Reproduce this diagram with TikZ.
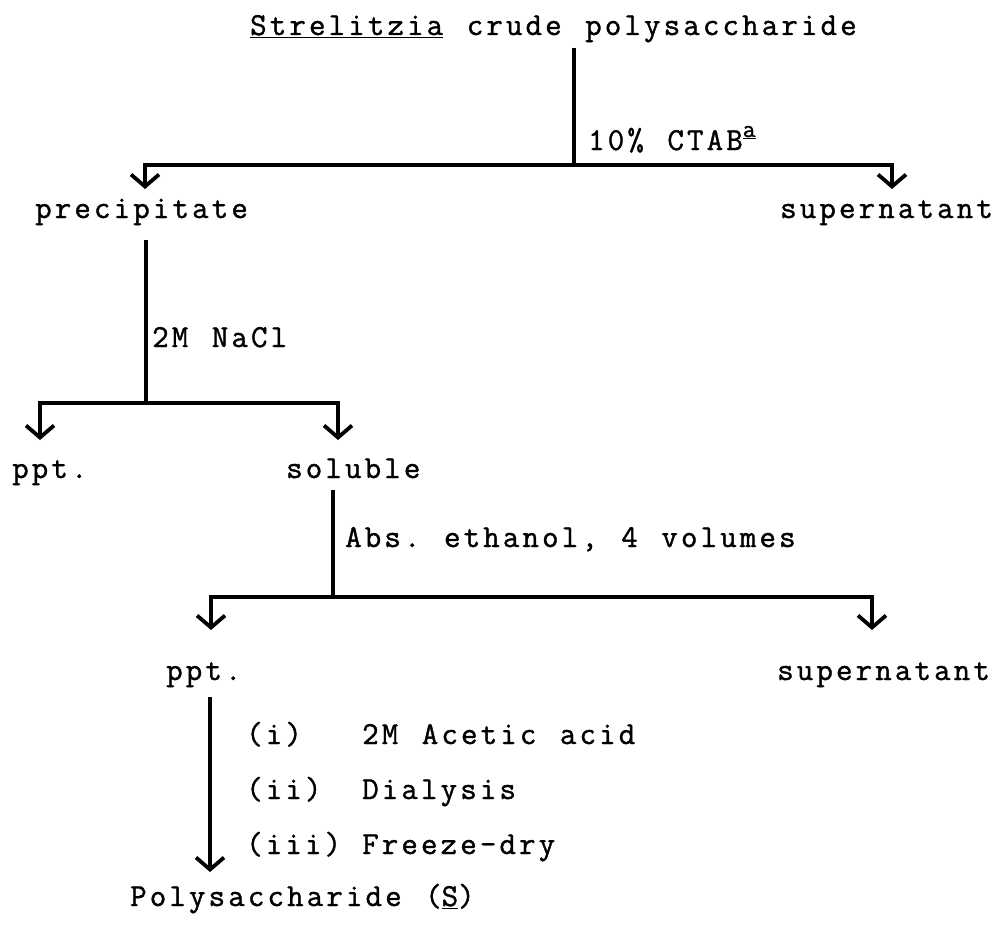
\documentclass[tikz,border=0pt]{standalone}
\usepackage{fontspec}
\setmonofont{Latin Modern Mono}[LetterSpace=9.8,WordSpace=1.2,FakeBold=1.2]
\usetikzlibrary{arrows.meta}
\begin{document}
\begin{tikzpicture}[x=1pt,y=-1pt,
  lbl/.style={anchor=base west, inner sep=0pt, font=\ttfamily\fontsize{32}{34}\selectfont},
  ln/.style={line width=3.4pt, line join=miter},
  arr/.style={ln, -{Straight Barb[length=12pt,width=28pt,line width=3.8pt]}}]
\useasboundingbox (0,0) rectangle (997,942);
% texts
\node[lbl] (title) at (250,35) {\underline{Strelitzia} crude polysaccharide};
\node[lbl] (ctab) at (588,150) {10\% CTAB\raisebox{13pt}{\fontsize{25}{25}\selectfont\underline{a}}};
\node[lbl] (prec) at (35,218) {precipitate};
\node[lbl] (sup1) at (780,218) {supernatant};
\node[lbl] (nacl) at (152,347) {2M NaCl};
\node[lbl] (ppt1) at (12,478) {ppt.};
\node[lbl] (sol) at (286,478) {soluble};
\node[lbl] (eth) at (345,547) {Abs. ethanol, 4 volumes};
\node[lbl] (ppt2) at (166,680) {ppt.};
\node[lbl] (sup2) at (777,680) {supernatant};
\node[lbl] (n1) at (246,744) {(i)};
\node[lbl] (s1) at (362,744) {2M Acetic acid};
\node[lbl] (n2) at (246,799) {(ii)};
\node[lbl] (s2) at (362,799) {Dialysis};
\node[lbl] (n3) at (246,854) {(iii)};
\node[lbl] (s3) at (362,854) {Freeze-dry};
\node[lbl] (poly) at (130,906) {Polysaccharide (\underline{S})};
% tree 1
\coordinate (t1) at (574,48);
\coordinate (j1) at (574,165);
\coordinate (a1) at (145,189);
\coordinate (b1) at (892,189);
\draw[ln] (t1) -- (j1);
\draw[arr] (j1) -| (a1);
\draw[arr] (j1) -| (b1);
% tree 2
\coordinate (t2) at (146,240);
\coordinate (j2) at (146,403);
\coordinate (a2) at (40,440);
\coordinate (b2) at (338,440);
\draw[ln] (t2) -- (j2);
\draw[arr] (j2) -| (a2);
\draw[arr] (j2) -| (b2);
% tree 3
\coordinate (t3) at (333,490);
\coordinate (j3) at (333,597);
\coordinate (a3) at (211,630);
\coordinate (b3) at (872,630);
\draw[ln] (t3) -- (j3);
\draw[arr] (j3) -| (a3);
\draw[arr] (j3) -| (b3);
% final
\coordinate (t4) at (210,697);
\coordinate (a4) at (210,872);
\draw[arr] (t4) -- (a4);
\end{tikzpicture}
\end{document}
